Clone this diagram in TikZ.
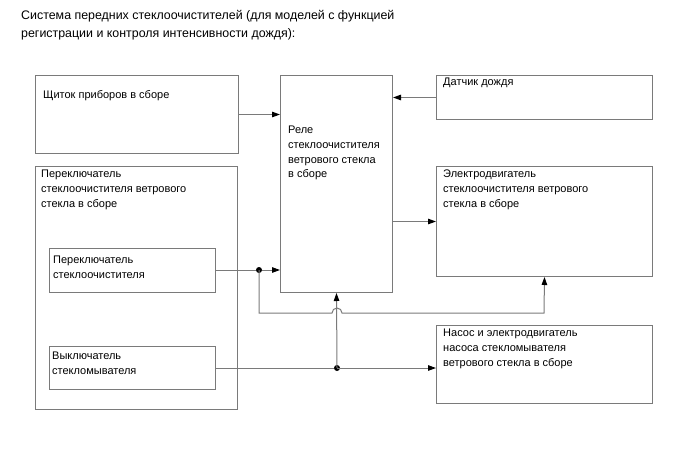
\documentclass[tikz,border=0pt]{standalone}
\usepackage{fontspec}
\setmainfont{Liberation Sans}
\usetikzlibrary{arrows.meta}
\definecolor{lin}{HTML}{7A7A7A}
\tikzset{
  blk/.style={draw=lin, line width=1pt, rectangle, inner sep=0pt, anchor=north west},
  txt/.style={anchor=north west, inner sep=0pt, align=left, font=\fontsize{11}{14.7}\selectfont},
  ttl/.style={anchor=north west, inner sep=0pt, align=left, font=\fontsize{12.4}{18}\selectfont},
  con/.style={draw=lin, line width=1pt},
  arr/.style={con, -{Triangle[length=8pt,width=5.5pt,color=black]}},
  jdot/.style={circle, fill=black, inner sep=0pt, minimum size=6pt}
}
\begin{document}
\begin{tikzpicture}[x=1pt,y=-1pt]
\useasboundingbox (0,0) rectangle (688,463);
% boxes
\node[blk, minimum width=203pt, minimum height=78pt] (panel) at (35,75) {};
\node[blk, minimum width=202pt, minimum height=243pt] (sw) at (35,166) {};
\node[blk, minimum width=166pt, minimum height=44pt] (wsw) at (49,248) {};
\node[blk, minimum width=166pt, minimum height=43pt] (wash) at (49,346) {};
\node[blk, minimum width=112pt, minimum height=217pt] (relay) at (280,75) {};
\node[blk, minimum width=216pt, minimum height=44pt] (rain) at (436,75) {};
\node[blk, minimum width=216pt, minimum height=110pt] (motor) at (436,166) {};
\node[blk, minimum width=216pt, minimum height=78pt] (pump) at (436,325) {};
% texts
\node[ttl] (title) at (21,10) {Система передних стеклоочистителей (для моделей с функцией\\регистрации и контроля интенсивности дождя):};
\node[txt] (tpanel) at (43,90) {Щиток приборов в сборе};
\node[txt] (tsw) at (41,170) {Переключатель\\стеклоочистителя ветрового\\стекла в сборе};
\node[txt] (twsw) at (53,256) {Переключатель\\стеклоочистителя};
\node[txt] (twash) at (52,352) {Выключатель\\стекломывателя};
\node[txt] (trelay) at (288,126) {Реле\\стеклоочистителя\\ветрового стекла\\в сборе};
\node[txt] (train) at (443,78) {Датчик дождя};
\node[txt] (tmotor) at (443,170) {Электродвигатель\\стеклоочистителя ветрового\\стекла в сборе};
\node[txt] (tpump) at (443,329) {Насос и электродвигатель\\насоса стекломывателя\\ветрового стекла в сборе};
% junctions
\node[jdot] (j1) at (259,270) {};
\node[jdot] (j2) at (337,368) {};
\coordinate (c1) at (259,313);
\coordinate (h1) at (332,313);
\coordinate (c2) at (544,313);
% connectors
\draw[arr] (panel.east) -- (relay.west |- panel.east);
\draw[arr] (rain.west) -- (relay.east |- rain.west);
\draw[arr] (relay.east |- motor.west) -- (motor.west);
\draw[con] (wsw.east |- j1) -- (j1);
\draw[arr] (j1) -- (relay.west |- j1);
\draw[arr] (j1.center) -- (c1) -- (h1) arc[start angle=180, end angle=360, radius=5] -- (c2) -- (motor.south);
\draw[con] (wash.east |- j2) -- (j2);
\draw[arr] (j2.center) -- (pump.west |- j2);
\draw[arr] (j2.center) -- (relay.south);
\end{tikzpicture}
\end{document}
